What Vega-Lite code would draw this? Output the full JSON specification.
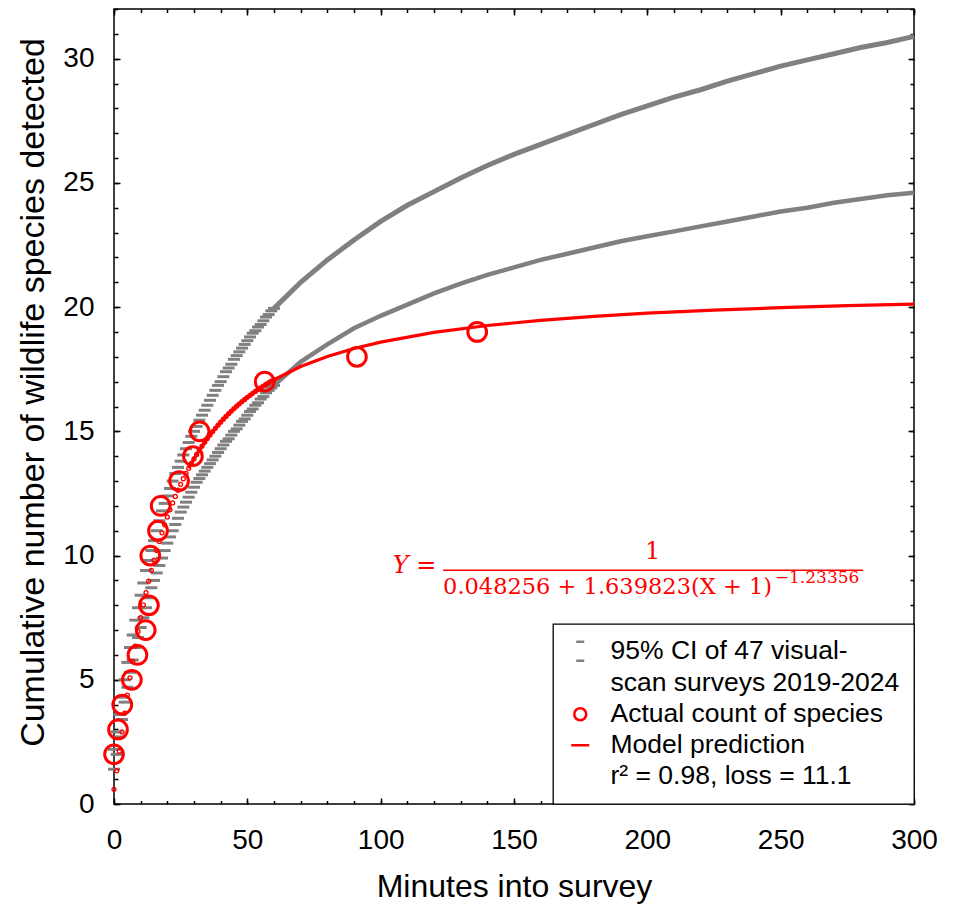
{
  "$schema": "https://vega.github.io/schema/vega-lite/v6.json",
  "autosize": {"type": "none"},
  "width": 800,
  "height": 795,
  "padding": {"left": 114, "top": 9, "right": 39, "bottom": 103},
  "background": "white",
  "datasets": {
    "ci": [
      {"m":0,"lo":1.4,"hi":2.2},{"m":1,"lo":2.0,"hi":2.9},{"m":2,"lo":2.7,"hi":3.6},{"m":3,"lo":3.4,"hi":4.3},{"m":4,"lo":4.1,"hi":5.0},
      {"m":5,"lo":4.7,"hi":5.7},{"m":6,"lo":5.3,"hi":6.3},{"m":7,"lo":5.8,"hi":6.8},{"m":8,"lo":6.3,"hi":7.4},{"m":9,"lo":6.7,"hi":7.9},
      {"m":10,"lo":7.1,"hi":8.4},{"m":11,"lo":7.5,"hi":8.9},{"m":12,"lo":7.9,"hi":9.4},{"m":13,"lo":8.3,"hi":9.8},{"m":14,"lo":8.7,"hi":10.2},
      {"m":15,"lo":9.0,"hi":10.6},{"m":16,"lo":9.3,"hi":11.0},{"m":17,"lo":9.6,"hi":11.4},{"m":18,"lo":9.9,"hi":11.8},{"m":19,"lo":10.2,"hi":12.1},
      {"m":20,"lo":10.5,"hi":12.4},{"m":21,"lo":10.75,"hi":12.7},{"m":22,"lo":11.0,"hi":13.0},{"m":23,"lo":11.25,"hi":13.3},{"m":24,"lo":11.5,"hi":13.55},
      {"m":25,"lo":11.75,"hi":13.8},{"m":26,"lo":11.95,"hi":14.05},{"m":27,"lo":12.15,"hi":14.3},{"m":28,"lo":12.35,"hi":14.55},{"m":29,"lo":12.55,"hi":14.8},
      {"m":30,"lo":12.75,"hi":15.0},{"m":31,"lo":12.95,"hi":15.2},{"m":32,"lo":13.1,"hi":15.45},{"m":33,"lo":13.25,"hi":15.65},{"m":34,"lo":13.4,"hi":15.85},
      {"m":35,"lo":13.55,"hi":16.05},{"m":36,"lo":13.7,"hi":16.25},{"m":37,"lo":13.85,"hi":16.45},{"m":38,"lo":14.0,"hi":16.65},{"m":39,"lo":14.15,"hi":16.85},
      {"m":40,"lo":14.3,"hi":17.0},{"m":41,"lo":14.45,"hi":17.2},{"m":42,"lo":14.6,"hi":17.4},{"m":43,"lo":14.7,"hi":17.55},{"m":44,"lo":14.85,"hi":17.7},
      {"m":45,"lo":15.0,"hi":17.9},{"m":46,"lo":15.1,"hi":18.05},{"m":47,"lo":15.25,"hi":18.2},{"m":48,"lo":15.4,"hi":18.35},{"m":49,"lo":15.5,"hi":18.5},
      {"m":50,"lo":15.65,"hi":18.65},{"m":51,"lo":15.8,"hi":18.8},{"m":52,"lo":15.9,"hi":18.95},{"m":53,"lo":16.05,"hi":19.05},{"m":54,"lo":16.15,"hi":19.2},
      {"m":55,"lo":16.3,"hi":19.3},{"m":56,"lo":16.4,"hi":19.45},{"m":57,"lo":16.55,"hi":19.6},{"m":58,"lo":16.65,"hi":19.7},{"m":59,"lo":16.75,"hi":19.85},
      {"m":60,"lo":16.85,"hi":19.95},{"m":70,"lo":17.8,"hi":21.0},{"m":80,"lo":18.5,"hi":21.9},{"m":90,"lo":19.15,"hi":22.7},{"m":100,"lo":19.65,"hi":23.45},
      {"m":110,"lo":20.1,"hi":24.1},{"m":120,"lo":20.55,"hi":24.65},{"m":130,"lo":20.95,"hi":25.2},{"m":140,"lo":21.3,"hi":25.7},{"m":150,"lo":21.6,"hi":26.15},
      {"m":160,"lo":21.9,"hi":26.55},{"m":170,"lo":22.15,"hi":26.95},{"m":180,"lo":22.4,"hi":27.35},{"m":190,"lo":22.65,"hi":27.75},{"m":200,"lo":22.85,"hi":28.1},
      {"m":210,"lo":23.05,"hi":28.45},{"m":220,"lo":23.25,"hi":28.75},{"m":230,"lo":23.45,"hi":29.1},{"m":240,"lo":23.65,"hi":29.4},{"m":250,"lo":23.85,"hi":29.7},
      {"m":260,"lo":24.0,"hi":29.95},{"m":270,"lo":24.2,"hi":30.2},{"m":280,"lo":24.35,"hi":30.45},{"m":290,"lo":24.5,"hi":30.65},{"m":300,"lo":24.6,"hi":30.9}
    ],
    "model": [
      {"m":0,"y":0.592},{"m":1,"y":1.341},{"m":2,"y":2.123},{"m":3,"y":2.900},{"m":4,"y":3.657},{"m":5,"y":4.384},{"m":6,"y":5.078},{"m":7,"y":5.736},
      {"m":8,"y":6.357},{"m":9,"y":6.943},{"m":10,"y":7.496},{"m":11,"y":8.019},{"m":12,"y":8.509},{"m":13,"y":8.969},{"m":14,"y":9.406},{"m":15,"y":9.815},
      {"m":16,"y":10.203},{"m":17,"y":10.568},{"m":18,"y":10.914},{"m":19,"y":11.237},{"m":20,"y":11.548},{"m":21,"y":11.839},{"m":22,"y":12.117},{"m":23,"y":12.380},
      {"m":24,"y":12.628},{"m":25,"y":12.866},{"m":26,"y":13.091},{"m":27,"y":13.307},{"m":28,"y":13.512},{"m":29,"y":13.708},{"m":30,"y":13.893},{"m":31,"y":14.071},
      {"m":32,"y":14.241},{"m":33,"y":14.405},{"m":34,"y":14.561},{"m":35,"y":14.709},{"m":36,"y":14.852},{"m":37,"y":14.991},{"m":38,"y":15.122},{"m":39,"y":15.249},
      {"m":40,"y":15.370},{"m":41,"y":15.488},{"m":42,"y":15.601},{"m":43,"y":15.710},{"m":44,"y":15.814},{"m":45,"y":15.915},{"m":46,"y":16.012},{"m":47,"y":16.106},
      {"m":48,"y":16.197},{"m":49,"y":16.284},{"m":50,"y":16.368},{"m":51,"y":16.451},{"m":52,"y":16.530},{"m":53,"y":16.607},{"m":54,"y":16.681},{"m":55,"y":16.753},
      {"m":56,"y":16.822},{"m":57,"y":16.890},{"m":58,"y":16.955},{"m":59,"y":17.019},{"m":60,"y":17.079},{"m":70,"y":17.608},{"m":80,"y":18.014},{"m":90,"y":18.334},
      {"m":100,"y":18.593},{"m":120,"y":18.983},{"m":140,"y":19.261},{"m":160,"y":19.468},{"m":180,"y":19.628},{"m":200,"y":19.755},{"m":225,"y":19.880},
      {"m":250,"y":19.978},{"m":275,"y":20.058},{"m":300,"y":20.124}
    ],
    "actual": [
      {"m":0,"y":2},{"m":1.5,"y":3},{"m":3.1,"y":4},{"m":6.7,"y":5},{"m":8.8,"y":6},{"m":11.9,"y":7},{"m":13.1,"y":8},{"m":13.6,"y":10},
      {"m":16.5,"y":11},{"m":17.5,"y":12},{"m":24.4,"y":13},{"m":29.6,"y":14},{"m":32.1,"y":15},{"m":56.5,"y":17},{"m":91.1,"y":18},{"m":136.2,"y":19}
    ],
    "series": [
      {"s":"ci"},{"s":"actual"},{"s":"model"}
    ]
  },
  "layer": [
    {
      "data": {"name": "ci"},
      "transform": [{"filter": "datum.m <= 60"}],
      "mark": {"type": "tick", "orient": "horizontal", "size": 12, "thickness": 3, "color": "#808080", "opacity": 1},
      "encoding": {
        "x": {"field": "m", "type": "quantitative", "scale": {"domain": [0, 300], "nice": false, "zero": false},
              "axis": {"orient": "bottom", "values": [0,50,100,150,200,250,300], "tickSize": -6, "labelPadding": 28, "title": "Minutes into survey", "titlePadding": 17, "titleFontSize": 32}},
        "y": {"field": "hi", "type": "quantitative", "scale": {"domain": [0, 32], "nice": false, "zero": false},
              "axis": {"orient": "left", "values": [0,5,10,15,20,25,30], "tickSize": -6, "labelPadding": 26, "title": "Cumulative number of wildlife species detected", "titlePadding": 12, "titleY": 383, "titleFontSize": 34}}
      }
    },
    {
      "data": {"name": "ci"},
      "transform": [{"filter": "datum.m <= 60"}],
      "mark": {"type": "tick", "orient": "horizontal", "size": 12, "thickness": 3, "color": "#808080", "opacity": 1},
      "encoding": {
        "x": {"field": "m", "type": "quantitative", "axis": {"orient": "top", "values": [0,50,100,150,200,250,300], "tickSize": -6, "labels": false, "title": null}},
        "y": {"field": "lo", "type": "quantitative", "axis": {"orient": "right", "values": [0,5,10,15,20,25,30], "tickSize": -6, "labels": false, "title": null}}
      }
    },
    {
      "data": {"name": "ci"},
      "transform": [{"filter": "datum.m >= 60"}],
      "mark": {"type": "line", "color": "#808080", "strokeWidth": 5},
      "encoding": {
        "x": {"field": "m", "type": "quantitative", "axis": {"orient": "bottom", "values": [0,10,20,30,40,50,60,70,80,90,100,110,120,130,140,150,160,170,180,190,200,210,220,230,240,250,260,270,280,290,300], "tickSize": -3.5, "labels": false, "title": null}},
        "y": {"field": "hi", "type": "quantitative", "axis": {"orient": "left", "values": [0,1,2,3,4,5,6,7,8,9,10,11,12,13,14,15,16,17,18,19,20,21,22,23,24,25,26,27,28,29,30,31,32], "tickSize": -4, "labels": false, "title": null}}
      }
    },
    {
      "data": {"name": "ci"},
      "transform": [{"filter": "datum.m >= 60"}],
      "mark": {"type": "line", "color": "#808080", "strokeWidth": 4.5},
      "encoding": {
        "x": {"field": "m", "type": "quantitative", "axis": {"orient": "top", "values": [0,10,20,30,40,50,60,70,80,90,100,110,120,130,140,150,160,170,180,190,200,210,220,230,240,250,260,270,280,290,300], "tickSize": -3.5, "labels": false, "title": null}},
        "y": {"field": "lo", "type": "quantitative", "axis": {"orient": "right", "values": [0,1,2,3,4,5,6,7,8,9,10,11,12,13,14,15,16,17,18,19,20,21,22,23,24,25,26,27,28,29,30,31,32], "tickSize": -4, "labels": false, "title": null}}
      }
    },
    {
      "data": {"name": "model"},
      "transform": [{"filter": "datum.m >= 28"}],
      "mark": {"type": "line", "color": "#FF0000", "strokeWidth": 3.2},
      "encoding": {
        "x": {"field": "m", "type": "quantitative", "axis": null},
        "y": {"field": "y", "type": "quantitative", "axis": null}
      }
    },
    {
      "data": {"name": "model"},
      "transform": [{"filter": "datum.m <= 60"}],
      "mark": {"type": "point", "shape": "circle", "filled": false, "size": 16, "strokeWidth": 1.3, "opacity": 1, "color": "#FF0000"},
      "encoding": {
        "x": {"field": "m", "type": "quantitative", "axis": null},
        "y": {"field": "y", "type": "quantitative", "axis": null}
      }
    },
    {
      "data": {"name": "actual"},
      "mark": {"type": "point", "shape": "circle", "filled": false, "size": 350, "strokeWidth": 3, "opacity": 1, "color": "#FF0000"},
      "encoding": {
        "x": {"field": "m", "type": "quantitative", "axis": null},
        "y": {"field": "y", "type": "quantitative", "axis": null}
      }
    },
    {
      "data": {"name": "series"},
      "transform": [{"filter": "datum.s == 'none'"}],
      "mark": {"type": "point", "filled": false, "strokeWidth": 2.5, "opacity": 1},
      "encoding": {
        "x": {"datum": 0, "type": "quantitative", "axis": null},
        "y": {"datum": 0, "type": "quantitative", "axis": null},
        "color": {"field": "s", "type": "nominal",
          "scale": {"domain": ["ci", "ci2", "actual", "model", "model2"], "range": ["#808080", "#808080", "#FF0000", "#FF0000", "#FF0000"]},
          "legend": {
            "title": null, "orient": "bottom-right", "offset": 0, "padding": 14, "zindex": 1,
            "fillColor": "white", "strokeColor": "black", "cornerRadius": 0,
            "labelFont": "Liberation Sans", "labelFontSize": 26.5, "labelColor": "black", "labelLimit": 0, "labelOffset": 17,
            "labelBaseline": "middle", "rowPadding": 4, "symbolSize": 400, "symbolStrokeWidth": 2.5,
            "labelExpr": "datum.value == 'ci' ? '95% CI of 47 visual-' : datum.value == 'ci2' ? 'scan surveys 2019-2024' : datum.value == 'actual' ? 'Actual count of species' : datum.value == 'model' ? 'Model prediction' : 'r² = 0.98, loss = 11.1'"
          }
        },
        "shape": {"field": "s", "type": "nominal",
          "scale": {"domain": ["ci", "ci2", "actual", "model", "model2"], "range": ["M-0.4,-0.95H0.4M-0.4,0.95H0.4", "M0,0", "M-0.6,0A0.6,0.6 0 1,0 0.6,0A0.6,0.6 0 1,0 -0.6,0", "M-0.9,0H0.9", "M0,0"]},
          "legend": {
            "title": null, "orient": "bottom-right", "offset": 0, "padding": 14, "zindex": 1,
            "fillColor": "white", "strokeColor": "black", "cornerRadius": 0,
            "labelFont": "Liberation Sans", "labelFontSize": 26.5, "labelColor": "black", "labelLimit": 0, "labelOffset": 17,
            "labelBaseline": "middle", "rowPadding": 4, "symbolSize": 400, "symbolStrokeWidth": 2.5,
            "labelExpr": "datum.value == 'ci' ? '95% CI of 47 visual-' : datum.value == 'ci2' ? 'scan surveys 2019-2024' : datum.value == 'actual' ? 'Actual count of species' : datum.value == 'model' ? 'Model prediction' : 'r² = 0.98, loss = 11.1'"
          }
        }
      }
    },
    {
      "data": {"values": [{}]},
      "mark": {"type": "text", "text": "Y =", "font": "DejaVu Serif", "fontStyle": "italic", "fontSize": 24, "color": "#FF0000", "align": "left", "baseline": "middle"},
      "encoding": {
        "x": {"datum": 104.5, "type": "quantitative", "axis": null},
        "y": {"datum": 9.6, "type": "quantitative", "axis": null}
      }
    },
    {
      "data": {"values": [{}]},
      "mark": {"type": "text", "text": "1", "font": "DejaVu Serif", "fontSize": 24, "color": "#FF0000", "align": "center", "baseline": "middle"},
      "encoding": {
        "x": {"datum": 202, "type": "quantitative", "axis": null},
        "y": {"datum": 10.15, "type": "quantitative", "axis": null}
      }
    },
    {
      "data": {"values": [{}]},
      "mark": {"type": "rule", "color": "#FF0000", "strokeWidth": 1.5},
      "encoding": {
        "x": {"datum": 123.4, "type": "quantitative", "axis": null},
        "x2": {"datum": 280.9},
        "y": {"datum": 9.41, "type": "quantitative", "axis": null}
      }
    },
    {
      "data": {"values": [{}]},
      "mark": {"type": "text", "text": "0.048256 + 1.639823(X + 1)", "font": "DejaVu Serif", "fontSize": 22.5, "color": "#FF0000", "align": "left", "baseline": "middle"},
      "encoding": {
        "x": {"datum": 123.4, "type": "quantitative", "axis": null},
        "y": {"datum": 8.74, "type": "quantitative", "axis": null}
      }
    },
    {
      "data": {"values": [{}]},
      "mark": {"type": "text", "text": "−1.23356", "font": "DejaVu Serif", "fontSize": 17, "color": "#FF0000", "align": "left", "baseline": "middle"},
      "encoding": {
        "x": {"datum": 247.8, "type": "quantitative", "axis": null},
        "y": {"datum": 9.1, "type": "quantitative", "axis": null}
      }
    }
  ],
  "resolve": {"axis": {"x": "independent", "y": "independent"}},
  "config": {
    "view": {"stroke": "black", "strokeWidth": 1.5},
    "legend": {"strokeWidth": 1.3},
    "axis": {
      "labelFont": "Liberation Sans", "labelFontSize": 28, "labelColor": "black",
      "titleFont": "Liberation Sans", "titleFontSize": 33, "titleFontWeight": "normal", "titleColor": "black",
      "tickColor": "black", "tickWidth": 1.5, "domain": false, "grid": false, "zindex": 3, "labelFlush": false, "labelOverlap": false
    }
  }
}
